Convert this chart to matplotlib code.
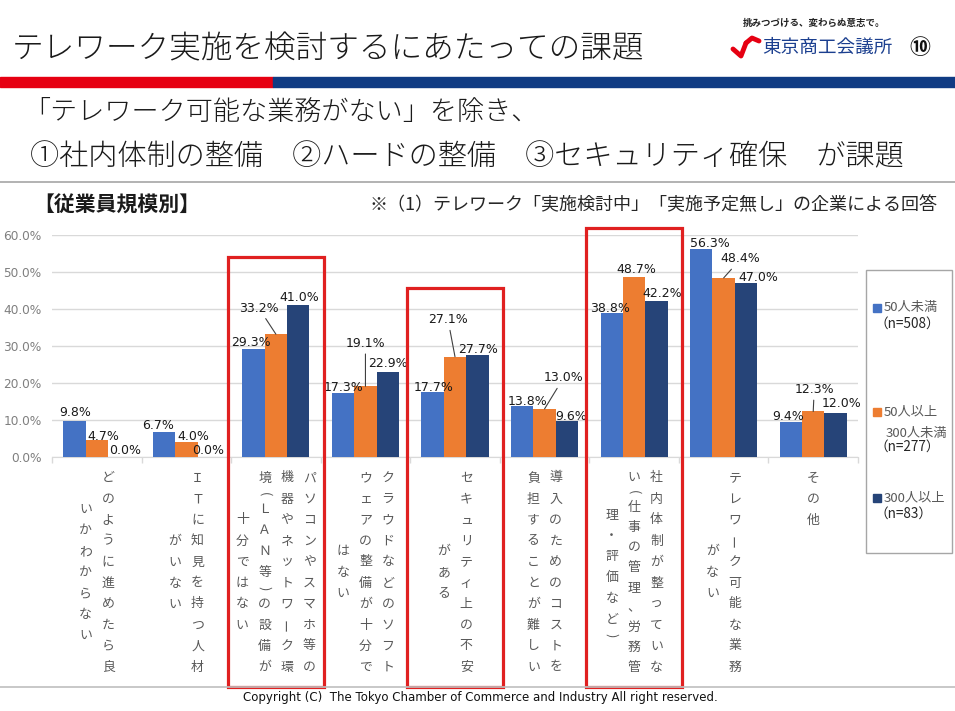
import matplotlib.pyplot as plt
import matplotlib.transforms as mtransforms
from matplotlib.patches import Rectangle
from matplotlib.lines import Line2D
import numpy as np

plt.rcParams['font.family'] = ['Noto Sans CJK JP', 'DejaVu Sans']

# ---- data ----
categories = [
    ["どのように進めたら良", "いかわからない"],
    ["ＩＴに知見を持つ人材", "がいない"],
    ["パソコンやスマホ等の", "機器やネットワーク環", "境(ＬＡＮ等)の設備が", "十分ではない"],
    ["クラウドなどのソフト", "ウェアの整備が十分で", "はない"],
    ["セキュリティ上の不安", "がある"],
    ["導入のためのコストを", "負担することが難しい"],
    ["社内体制が整っていな", "い(仕事の管理、労務管", "理・評価など)"],
    ["テレワーク可能な業務", "がない"],
    ["その他"],
]
series_names = [["50人未満"], ["50人以上", "300人未満"], ["300人以上"]]
series_n = ["（n=508）", "（n=277）", "（n=83）"]
under_50 = [9.8, 6.7, 29.3, 17.3, 17.7, 13.8, 38.8, 56.3, 9.4]
from_50_to_300 = [4.7, 4.0, 33.2, 19.1, 27.1, 13.0, 48.7, 48.4, 12.3]
over_300 = [0.0, 0.0, 41.0, 22.9, 27.7, 9.6, 42.2, 47.0, 12.0]
highlighted = [2, 4, 6]

title = "テレワーク実施を検討するにあたっての課題"
sub1 = "「テレワーク可能な業務がない」を除き、"
sub2 = "①社内体制の整備　②ハードの整備　③セキュリティ確保　が課題"
section = "【従業員規模別】"
note = "※（1）テレワーク「実施検討中」「実施予定無し」の企業による回答"

# ---- layout (pixels) ----
W, H = 955, 711
colors = ['#4472C4', '#ED7D31', '#264478']
# label offsets from bar top, (dx, dy) pixels, dy upward
offsets = [
    [(1, 8), (-6, 7), (-3, 6), (0, 5), (1, 4), (5, 4), (-2, 5), (9, 5), (-3, 6)],
    [(7, 3), (7, 6), (-17, 26), (0, 43), (-7, 37), (19, 31), (2, 7), (17, 19), (1, 22)],
    [(6, 7), (-1, 7), (1, 8), (0, 9), (1, 5), (4, 5), (6, 7), (12, 6), (6, 9)],
]
leaders = [[], [2, 3, 4, 5, 7, 8], []]
box_tops = [257, 288, 228]


def fx(x):
    return x / W


def fy(y):
    return 1 - y / H


fig = plt.figure(figsize=(W / 100, H / 100), dpi=100)
fig.patch.set_facecolor('white')

# header
fig.text(fx(12), fy(49), title, fontsize=22.8, color='#1a1a1a', va='center', ha='left',
         fontweight='light')
fig.patches.append(Rectangle((0, fy(87)), fx(273), fy(77) - fy(87), transform=fig.transFigure,
                             color='#E60012', zorder=1))
fig.patches.append(Rectangle((fx(273), fy(87)), 1 - fx(273), fy(77) - fy(87), transform=fig.transFigure,
                             color='#103B83', zorder=1))
fig.text(fx(743), fy(23), "挑みつづける、変わらぬ意志で。", fontsize=6.8, color='#222222',
         fontweight='bold', va='center', ha='left')
fig.lines.append(Line2D([fx(733), fx(741), fx(746)], [fy(49), fy(56), fy(43)], transform=fig.transFigure,
                        color='#E60012', lw=3.5, solid_capstyle='round', solid_joinstyle='round'))
fig.lines.append(Line2D([fx(746), fx(752), fx(759)], [fy(43), fy(38), fy(41)], transform=fig.transFigure,
                        color='#E60012', lw=3.5, solid_capstyle='round', solid_joinstyle='round'))
fig.text(fx(762), fy(48), "東京商工会議所", fontsize=13.4, color='#1B3F8F', va='center', ha='left')
fig.text(fx(920), fy(47), "⑩", fontsize=15, color='#111111', fontweight='bold', va='center', ha='center')

fig.text(fx(23), fy(112), sub1, fontsize=19.5, color='#1a1a1a', va='center', ha='left',
         fontweight='light')
fig.text(fx(30), fy(157), sub2, fontsize=21, color='#1a1a1a', va='center', ha='left',
         fontweight='light')
fig.lines.append(Line2D([0, 1], [fy(182), fy(182)], transform=fig.transFigure, color='#A6A6A6', lw=1.2))
fig.text(fx(33), fy(205), section, fontsize=15, fontweight='bold', color='#1a1a1a', va='center', ha='left')
fig.text(fx(937), fy(205), note, fontsize=13, color='#262626', va='center', ha='right')

# chart
ax = fig.add_axes([fx(52), fy(457), fx(858) - fx(52), fy(235) - fy(457)])
x = np.arange(len(categories))
width = 0.25
series = [under_50, from_50_to_300, over_300]
for k, vals in enumerate(series):
    xs = x + (k - 1) * width
    ax.bar(xs, vals, width, color=colors[k], zorder=3)
    for i, v in enumerate(vals):
        dx, dy = offsets[k][i]
        arrow = None
        if i in leaders[k]:
            arrow = dict(arrowstyle='-', color='#404040', lw=0.8, shrinkA=1, shrinkB=0)
        ax.annotate(f"{v:.1f}%", xy=(xs[i], v), xytext=(dx, dy), textcoords='offset pixels',
                    ha='center', va='center', fontsize=9, color='#1a1a1a',
                    family='DejaVu Sans', arrowprops=arrow, zorder=5)

ax.set_xlim(-0.5, len(categories) - 0.5)
ax.set_ylim(0, 60)
ax.set_yticks(np.arange(0, 61, 10))
ax.set_yticklabels([f"{v:.1f}%" for v in np.arange(0, 61, 10)], family='DejaVu Sans',
                   fontsize=8.7, color='#7F7F7F')
ax.tick_params(axis='y', length=0, pad=7.5)
ax.set_xticks(np.arange(-0.5, len(categories), 1))
ax.set_xticklabels([])
ax.tick_params(axis='x', length=4, color='#D9D9D9', width=1)
ax.grid(axis='y', color='#D9D9D9', lw=1, zorder=0)
ax.set_axisbelow(True)
for s in ['top', 'right', 'left']:
    ax.spines[s].set_visible(False)
ax.spines['bottom'].set_color('#D9D9D9')
ax.patch.set_alpha(0)

# vertical category labels
trans = mtransforms.blended_transform_factory(ax.transData, fig.transFigure)
pitch = 21
top_px = 467.5
for i, cols in enumerate(categories):
    units = [sum(0.5 if ch in '()' else 1 for ch in col) for col in cols]
    umax = min(max(units), 10)
    n = len(cols)
    for j, col in enumerate(cols):
        cx = i + (n - 1) / 2 * width - j * width
        u = units[j]
        scale = min(1, 10 / u)
        y = top_px + (umax - min(u, 10)) / 2 * pitch
        for ch in col:
            w = (0.5 if ch in '()' else 1) * scale * pitch
            rot = 0
            if ch == 'ー':
                rot = 90
            elif ch in '()':
                rot = -90
            ax.text(cx, fy(y + w / 2), ch, transform=trans, ha='center', va='center',
                    rotation=rot, rotation_mode='anchor', fontsize=9.3, color='#595959',
                    clip_on=False)
            y += w

# highlight boxes
for idx, top in zip(highlighted, box_tops):
    half = 48 / 89.56
    ax.add_patch(Rectangle((idx - half, fy(687)), 2 * half, fy(top) - fy(687), transform=trans,
                           fill=False, edgecolor='#E02020', lw=2.3, clip_on=False, zorder=6))

# legend box
fig.patches.append(Rectangle((fx(866), fy(553)), fx(952) - fx(866), fy(270) - fy(553),
                             transform=fig.transFigure, fill=False, edgecolor='#A6A6A6', lw=1))
legend_rows = [308, 412, 498]
for k, yy in enumerate(legend_rows):
    fig.patches.append(Rectangle((fx(873), fy(yy + 4)), fx(8), fy(0) - fy(8),
                                 transform=fig.transFigure, color=colors[k]))
    for m, line in enumerate(series_names[k]):
        xx = 884 if m == 0 else 886
        fig.text(fx(xx), fy(yy + m * 21), line, fontsize=9.5, color='#595959', va='center', ha='left')
    fig.text(fx(874), fy(yy + 16 + (len(series_names[k]) - 1) * 19), series_n[k], fontsize=9.8,
             color='#262626', va='center', ha='left')

# footer
fig.lines.append(Line2D([0, 1], [fy(687), fy(687)], transform=fig.transFigure, color='#BFBFBF', lw=1.2))
fig.text(fx(480), fy(697), "Copyright (C)  The Tokyo Chamber of Commerce and Industry All right reserved.",
         family='DejaVu Sans', fontsize=8.5, color='#111111', va='center', ha='center')

fig.savefig('out.png', dpi=100)
